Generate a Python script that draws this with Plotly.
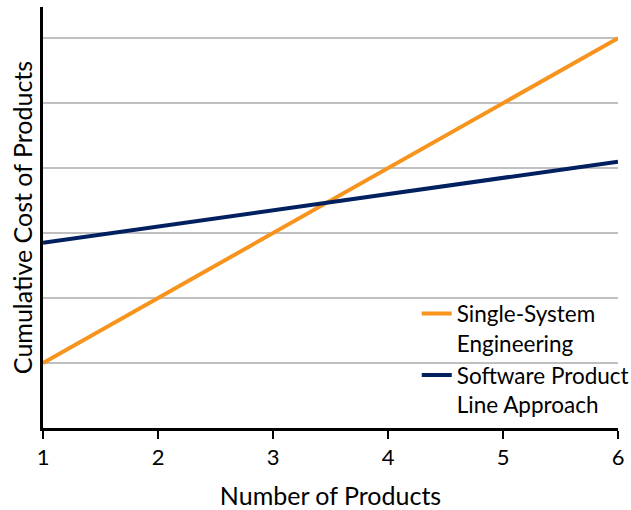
import plotly.graph_objects as go

products = [1, 2, 3, 4, 5, 6]
single_system = [1.0, 2.0, 3.0, 4.0, 5.0, 6.0]
product_line = [2.85, 3.1, 3.35, 3.6, 3.85, 4.1]
series_names = ["Single-System<br>Engineering", "Software Product<br>Line Approach"]
x_title = "Number of Products"
y_title = "Cumulative Cost of Products"

FONT = "Lato, Open Sans, sans-serif"

fig = go.Figure()
fig.add_trace(go.Scatter(x=products, y=single_system, mode="lines", name=series_names[0],
                         line=dict(color="#F7941E", width=4)))
fig.add_trace(go.Scatter(x=products, y=product_line, mode="lines", name=series_names[1],
                         line=dict(color="#002060", width=4)))

fig.update_layout(
    width=631, height=510,
    margin=dict(l=43, r=13, t=7, b=82, autoexpand=False),
    paper_bgcolor="white", plot_bgcolor="white",
    font=dict(family=FONT, size=22, color="black"),
    showlegend=True,
    legend=dict(x=0.65, y=0.322, xanchor="left", yanchor="top",
                bgcolor="rgba(0,0,0,0)", font=dict(size=22.5, color="black"),
                valign="top", tracegroupgap=0, itemwidth=30),
    xaxis=dict(range=[1, 6], tickvals=products, ticktext=[str(p) for p in products],
               showgrid=False, zeroline=False, showline=True, linecolor="black", linewidth=3,
               ticks="outside", ticklen=8, tickwidth=2, tickcolor="black", automargin=False,
               tickfont=dict(size=22), title=dict(text=x_title, font=dict(size=25), standoff=23)),
    yaxis=dict(range=[0, 6.48], dtick=1, showticklabels=False, showgrid=True,
               gridcolor="#C0C0C0", gridwidth=2, zeroline=False, showline=True,
               linecolor="black", linewidth=3, ticks="", automargin=False,
               title=dict(text=y_title, font=dict(size=25), standoff=1)),
)

fig.write_html("out.html", config={"displayModeBar": False},
               post_script="document.body.style.margin='0';document.body.style.overflow='hidden';")
